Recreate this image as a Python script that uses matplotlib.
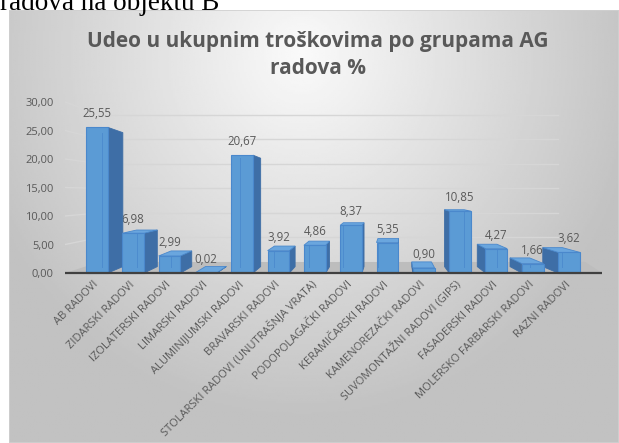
import matplotlib
matplotlib.use("Agg")
import matplotlib.pyplot as plt
import numpy as np

categories = [
    "AB RADOVI", "ZIDARSKI RADOVI", "IZOLATERSKI RADOVI", "LIMARSKI RADOVI",
    "ALUMINIJUMSKI RADOVI", "BRAVARSKI RADOVI", "STOLARSKI RADOVI (UNUTRAŠNJA VRATA)",
    "PODOPOLAGAČKI RADOVI", "KERAMIČARSKI RADOVI", "KAMENOREZAČKI RADOVI",
    "SUVOMONTAŽNI RADOVI (GIPS)", "FASADERSKI RADOVI", "MOLERSKO FARBARSKI RADOVI",
    "RAZNI RADOVI",
]
values = [25.55, 6.98, 2.99, 0.02, 20.67, 3.92, 4.86, 8.37, 5.35, 0.90, 10.85, 4.27, 1.66, 3.62]
y_ticks = [0, 5, 10, 15, 20, 25, 30]
title = "Udeo u ukupnim troškovima po grupama AG\nradova %"
header = "radova na objektu B"

FONT = "Open Sans"
GRAY = "#595959"
FRONT = "#5b9bd5"
EDGE = "#4a88cc"
SIDE = "#3e6ea6"
TOP = "#6aa6de"

# fake 3d perspective
VP_X, VP_Y = 8.4, 14.0
K_LEFT, K_RIGHT = 0.051, 0.098
K_BAR_Y, K_WALL_Y = 0.08, 0.138
BAR_W = 0.6
X_LIM = (-0.88, 13.91)


def fmt(v):
    return f"{v:.2f}".replace(".", ",")


def back(x, y, ky=K_BAR_Y):
    k = K_LEFT if x < VP_X else K_RIGHT
    return x + (VP_X - x) * k, y + (VP_Y - y) * ky


def wall_y(v):
    return v + (VP_Y - v) * K_WALL_Y


fig = plt.figure(figsize=(6.19, 4.43), dpi=100)

# chart area background
bg = fig.add_axes([9 / 619, 0, 610 / 619, 433 / 443], zorder=-10)
gx, gy = np.meshgrid(np.linspace(0, 1, 300), np.linspace(0, 1, 220))
r = np.sqrt(((gx - 0.48) / 1.0) ** 2 + ((gy - 0.1) / 1.5) ** 2)
shade = np.clip(250 - 100 * r, 194, 250) / 255
bg.imshow(shade, cmap="gray", vmin=0, vmax=1, aspect="auto", extent=(0, 1, 1, 0))
bg.set_xlim(0, 1)
bg.set_ylim(1, 0)
bg.axis("off")
bg.add_patch(plt.Rectangle((0, 0), 1, 1, fill=False, edgecolor="#d0d0d0", linewidth=1.2,
                           transform=bg.transAxes))

fig.text(0.0, (443 - 10) / 443, header, family="Liberation Serif", fontsize=19.5,
         va="baseline", ha="left", color="black")
fig.text(318 / 619, (443 - 55) / 443, title, family=FONT, fontweight="bold", fontsize=15,
         color=GRAY, ha="center", va="center", linespacing=1.35)

ax = fig.add_axes([65 / 619, (443 - 275.85) / 443, 537 / 619, 179.55 / 443])
ax.set_xlim(*X_LIM)
ax.set_ylim(-0.5, 31)
ax.patch.set_visible(False)
for s in ax.spines.values():
    s.set_visible(False)

# back wall gridlines + left wall
wall_left, wall_right = 0.08, 12.7
for t in y_ticks[1:]:
    wy = wall_y(t)
    ax.plot([X_LIM[0], wall_left], [t, wy], color="#d6d6d6", lw=1, zorder=1)
    ax.plot([wall_left, wall_right], [wy, wy], color="#d6d6d6", lw=1, zorder=1)

# floor
fy = wall_y(0)
ax.fill([X_LIM[0], X_LIM[1], 13.45, wall_left], [0, 0, fy, fy], color="#bdbdbd", zorder=1.5,
        lw=0)
ax.plot(X_LIM, [0, 0], color="#404040", lw=1.6, zorder=6, solid_capstyle="butt")

x = np.arange(len(values))

# value labels sit behind the bars
for i, v in enumerate(values):
    ax.annotate(fmt(v), (i, v), xytext=(0, 5), textcoords="offset points", ha="center",
                va="bottom", fontsize=8.3, color=GRAY, family=FONT, zorder=2)

for i, v in enumerate(values):
    x0, x1 = i - BAR_W / 2, i + BAR_W / 2
    if x1 < VP_X:
        bx, by0 = back(x1, 0)
        _, by1 = back(x1, v)
        ax.fill([x1, x1, bx, bx], [0, v, by1, by0], color=SIDE, ec=SIDE, lw=0.6, zorder=3)
    elif x0 > VP_X:
        bx, by0 = back(x0, 0)
        _, by1 = back(x0, v)
        ax.fill([x0, x0, bx, bx], [0, v, by1, by0], color=SIDE, ec=SIDE, lw=0.6, zorder=3)
    if v < VP_Y:
        (ax0, ay0), (ax1, ay1) = back(x0, v), back(x1, v)
        ax.fill([x0, x1, ax1, ax0], [v, v, ay1, ay0], color=TOP, ec=EDGE, lw=0.6, zorder=3.5)

ax.bar(x, values, width=BAR_W, color=FRONT, edgecolor=EDGE, linewidth=0.8, zorder=4)

# back edge seen through the front face
for i, v in enumerate(values):
    x0, x1 = i - BAR_W / 2, i + BAR_W / 2
    ex = x0 if x1 < VP_X else x1
    bx, by0 = back(ex, 0)
    _, by1 = back(ex, v)
    if x0 <= bx <= x1 and v > 1:
        ax.plot([bx, bx], [by0, min(by1, v)], color=EDGE, lw=0.7, alpha=0.8, zorder=4.5)

ax.set_yticks(y_ticks)
ax.set_yticklabels([fmt(t) for t in y_ticks])
ax.set_xticks(x)
ax.set_xticklabels(categories, rotation=45, ha="right", va="center", rotation_mode="anchor")
ax.tick_params(axis="both", length=0, labelcolor=GRAY, labelsize=8)
ax.tick_params(axis="y", pad=8)
ax.tick_params(axis="x", pad=5)
for lab in ax.get_xticklabels() + ax.get_yticklabels():
    lab.set_family(FONT)

fig.savefig("out.png", dpi=100)
